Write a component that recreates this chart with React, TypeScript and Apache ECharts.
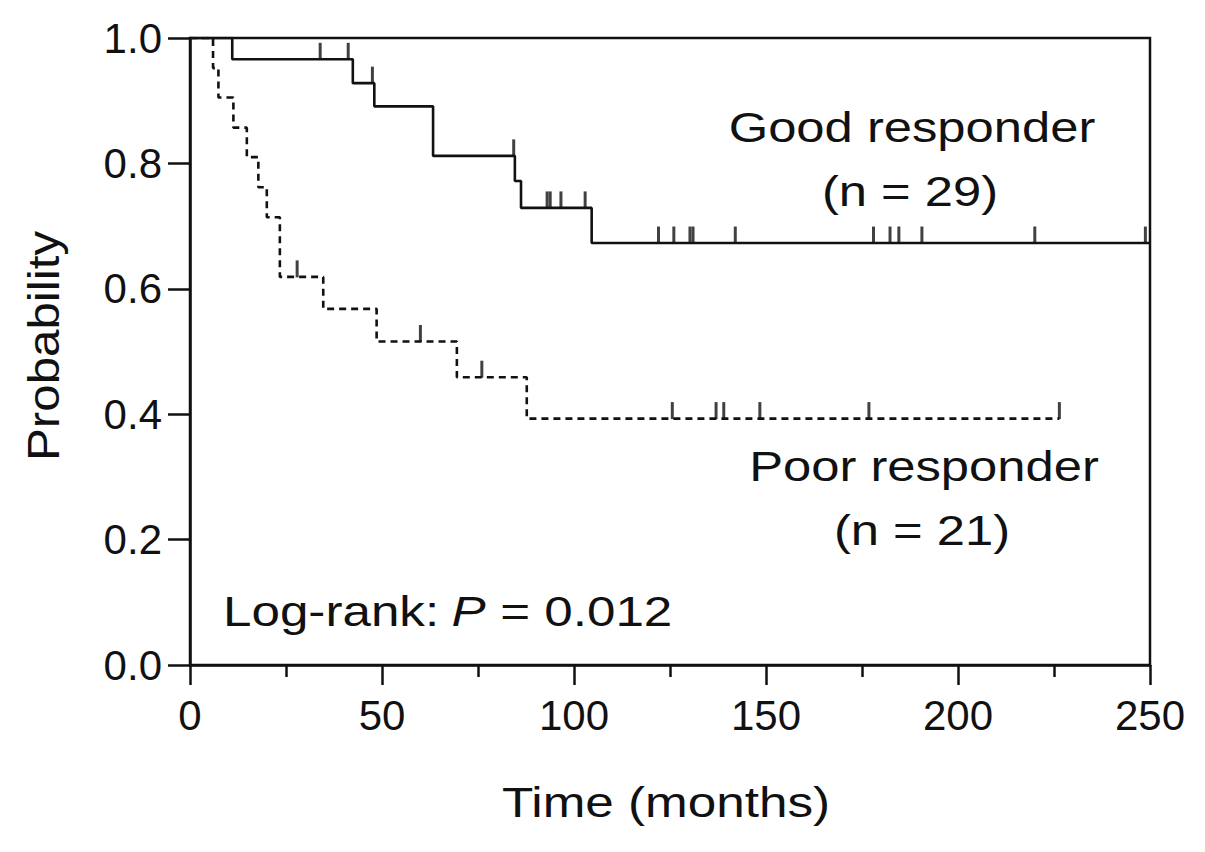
import React, { useEffect, useRef } from "react";
import * as echarts from "echarts";

// Kaplan–Meier step points: [months, probability]
const goodTimes = [0, 11, 42.4, 48, 63.3, 84.6, 86.2, 104.6, 250];
const goodProb = [1.0, 0.966, 0.928, 0.891, 0.812, 0.772, 0.729, 0.673, 0.673];
const goodCensorTimes = [33.9, 41.2, 47.5, 84.3, 93, 93.8, 96.6, 102.9, 122, 126, 130.2, 131, 142, 178, 182.3, 184.6, 190.6, 220, 248.8];
const goodCensorProb = [0.966, 0.966, 0.928, 0.812, 0.729, 0.729, 0.729, 0.729, 0.673, 0.673, 0.673, 0.673, 0.673, 0.673, 0.673, 0.673, 0.673, 0.673, 0.673];

const poorTimes = [0, 6, 7.4, 11.3, 14.8, 17.8, 20, 23.4, 34.7, 48.6, 69.5, 87.7, 226.4];
const poorProb = [1.0, 0.952, 0.905, 0.857, 0.81, 0.762, 0.714, 0.619, 0.568, 0.516, 0.459, 0.393, 0.393];
const poorCensorTimes = [27.9, 60, 76, 125.6, 137, 139, 148.4, 176.8, 226.4];
const poorCensorProb = [0.619, 0.516, 0.459, 0.393, 0.393, 0.393, 0.393, 0.393, 0.393];

const xTicks = [0, 50, 100, 150, 200, 250];
const yTicks = [0, 0.2, 0.4, 0.6, 0.8, 1.0];

const INK = "#111";
const FONT = "Liberation Sans, Arial, Helvetica, sans-serif";

function pairs(a: number[], b: number[]) {
  return a.map((t, i) => [t, b[i]]);
}

export default function App() {
  const ref = useRef<HTMLDivElement>(null);
  useEffect(() => {
    if (!ref.current) return;
    const chart = echarts.init(ref.current, undefined, { renderer: "svg" });
    const textStyle = (text: string, size: number, italic = false) => ({
      text,
      fill: INK,
      font: `${italic ? "italic " : ""}${size}px ${FONT}`,
      align: "center",
      verticalAlign: "middle",
    });
    chart.setOption({
      animation: false,
      backgroundColor: "#fff",
      grid: {
        left: 190,
        right: 55,
        top: 38,
        bottom: 187,
        show: true,
        borderColor: INK,
        borderWidth: 2.5,
        backgroundColor: "transparent",
      },
      xAxis: {
        type: "value",
        min: xTicks[0],
        max: xTicks[xTicks.length - 1],
        interval: 50,
        axisLine: { show: true, onZero: false, lineStyle: { color: INK, width: 2.5 } },
        axisTick: { show: true, length: 20, lineStyle: { color: INK, width: 2.5 } },
        minorTick: { show: true, splitNumber: 2, length: 12, lineStyle: { color: INK, width: 2.5 } },
        splitLine: { show: false },
        axisLabel: { color: INK, fontSize: 42, fontFamily: FONT, margin: 29 },
      },
      yAxis: {
        type: "value",
        min: yTicks[0],
        max: yTicks[yTicks.length - 1],
        interval: 0.2,
        axisLine: { show: true, onZero: false, lineStyle: { color: INK, width: 2.5 } },
        axisTick: { show: true, length: 22, lineStyle: { color: INK, width: 2.5 } },
        splitLine: { show: false },
        axisLabel: {
          color: INK,
          fontSize: 42,
          fontFamily: FONT,
          margin: 28,
          formatter: (v: number) => v.toFixed(1),
        },
      },
      series: [
        {
          type: "line",
          step: "end",
          data: pairs(goodTimes, goodProb),
          symbol: "none",
          lineStyle: { color: INK, width: 2.6, type: "solid" },
          z: 3,
        },
        {
          type: "line",
          step: "end",
          data: pairs(poorTimes, poorProb),
          symbol: "none",
          lineStyle: { color: INK, width: 2.6, type: [7, 5] },
          z: 3,
        },
        {
          type: "scatter",
          data: pairs(goodCensorTimes, goodCensorProb),
          symbol: "rect",
          symbolSize: [3, 17],
          symbolOffset: [0, -8],
          itemStyle: { color: INK },
          z: 4,
        },
        {
          type: "scatter",
          data: pairs(poorCensorTimes, poorCensorProb),
          symbol: "rect",
          symbolSize: [3, 17],
          symbolOffset: [0, -8],
          itemStyle: { color: INK },
          z: 4,
        },
      ],
      graphic: [
        { type: "text", x: 912, y: 127, scaleX: 1.18, style: textStyle("Good responder", 43) },
        { type: "text", x: 910, y: 191, scaleX: 1.18, style: textStyle("(n = 29)", 43) },
        { type: "text", x: 924, y: 466, scaleX: 1.18, style: textStyle("Poor responder", 43) },
        { type: "text", x: 922, y: 530, scaleX: 1.18, style: textStyle("(n = 21)", 43) },
        {
          type: "group",
          x: 223,
          y: 611,
          scaleX: 1.19,
          children: [
            { type: "text", x: 0, y: 0, style: { ...textStyle("Log-rank: ", 43), align: "left" } },
            { type: "text", x: 192, y: 0, style: { ...textStyle("P", 43, true), align: "left" } },
            { type: "text", x: 221, y: 0, style: { ...textStyle(" = 0.012", 43), align: "left" } },
          ],
        },
        { type: "text", x: 666, y: 803, scaleX: 1.22, style: textStyle("Time (months)", 42) },
        { type: "text", x: 44, y: 346, rotation: Math.PI / 2, scaleX: 1.12, style: textStyle("Probability", 44) },
      ],
    });
    return () => chart.dispose();
  }, []);
  return (
    <div
      ref={ref}
      style={{ position: "fixed", left: 0, top: 0, width: 1205, height: 852, background: "#fff" }}
    />
  );
}
